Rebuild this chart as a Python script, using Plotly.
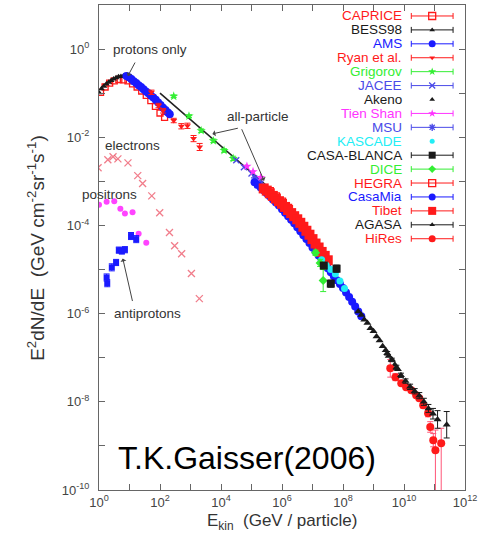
import plotly.graph_objects as go

# ---------------- data (log10 E [GeV], log10 E^2 dN/dE) ----------------
bess_logE = [0.0, 0.08, 0.16, 0.24, 0.32, 0.40, 0.48, 0.56, 0.64, 0.72, 0.80, 0.88, 0.96]
bess_logF = [-0.99, -0.90, -0.84, -0.79, -0.75, -0.71, -0.68, -0.65, -0.63, -0.62, -0.61, -0.62, -0.64]

caprice_logE = [0.05, 0.2, 0.35, 0.5, 0.65, 0.8, 0.95, 1.1, 1.25, 1.4, 1.55, 1.7, 1.85, 2.0, 2.15]
caprice_logF = [-0.98, -0.86, -0.77, -0.72, -0.69, -0.70, -0.72, -0.79, -0.86, -0.95, -1.05, -1.17, -1.30, -1.45, -1.55]

ams_logE = [0.90, 0.98, 1.06, 1.14, 1.22, 1.30, 1.38, 1.46, 1.54, 1.62, 1.70, 1.78, 1.86, 1.94, 2.02, 2.10, 2.18, 2.26, 2.32]
ams_logF = [-0.61, -0.64, -0.68, -0.73, -0.77, -0.82, -0.86, -0.91, -0.96, -1.00, -1.05, -1.10, -1.15, -1.21, -1.27, -1.33, -1.38, -1.44, -1.48]

ryan_logE = [1.72, 1.95, 2.1, 2.45, 2.7, 2.9, 3.1, 3.3]
ryan_logF = [-0.98, -1.28, -1.40, -1.62, -1.75, -1.74, -2.03, -2.22]
ryan_err = [0.05, 0.05, 0.05, 0.05, 0.06, 0.06, 0.07, 0.08]

grigorov_logE = [2.45, 2.95, 3.35, 3.75, 4.1, 4.4]
grigorov_logF = [-1.07, -1.52, -1.85, -2.08, -2.30, -2.48]
grigorov_err = [0.03, 0.03, 0.04, 0.04, 0.04, 0.05]

allpart_logE = [2.0, 3.0, 4.0, 5.0, 5.6, 6.0, 6.4, 6.8, 7.2]
allpart_logF = [-1.0, -1.60, -2.19, -2.79, -3.15, -3.40, -3.68, -4.05, -4.45]

jacee_logE = [4.5, 4.75, 5.0, 5.25]
jacee_logF = [-2.52, -2.68, -2.82, -2.97]
tienshan_logE = [4.85, 5.05, 5.3]
tienshan_logF = [-2.66, -2.78, -2.91]
msu_logE = [5.1, 5.3, 5.5, 5.7]
msu_logF = [-2.92, -3.05, -3.17, -3.30]

tibet_logE = [5.4, 5.5, 5.6, 5.7, 5.8, 5.9, 6.0, 6.1, 6.2, 6.3, 6.4, 6.5, 6.6, 6.7, 6.8, 6.9, 7.0, 7.1, 7.2, 7.3, 7.4, 7.5]
tibet_logF = [-3.16, -3.21, -3.27, -3.33, -3.39, -3.45, -3.51, -3.58, -3.65, -3.72, -3.79, -3.86, -3.94, -4.03, -4.12, -4.21, -4.31, -4.41, -4.50, -4.60, -4.69, -4.79]

hegra_logE = [5.6, 5.8, 6.0, 6.2]
hegra_logF = [-3.22, -3.34, -3.46, -3.60]

casamia_logE = [5.1, 5.2, 5.3, 5.4, 5.5, 5.6, 5.7, 5.8, 5.9, 6.0, 6.1, 6.2, 6.3, 6.4, 6.5, 6.6, 6.7, 6.8, 6.9, 7.0,
                7.1, 7.2, 7.3, 7.4, 7.5, 7.6, 7.7, 7.8, 7.9, 8.0, 8.1, 8.2, 8.3, 8.4, 8.5, 8.6]
casamia_logF = [-3.02, -3.08, -3.14, -3.20, -3.27, -3.34, -3.41, -3.48, -3.55, -3.63, -3.71, -3.79, -3.87, -3.95, -4.04,
                -4.13, -4.22, -4.31, -4.40, -4.50, -4.59, -4.68, -4.78, -4.87, -4.97, -5.06, -5.15, -5.24, -5.33, -5.42,
                -5.52, -5.62, -5.73, -5.84, -5.95, -6.06]

kascade_logE = [7.3, 7.45, 7.6, 7.75, 7.9, 8.05]
kascade_logF = [-4.78, -4.90, -5.00, -5.10, -5.26, -5.43]

casablanca_logE = [7.37, 7.6, 7.79]
casablanca_logF = [-4.91, -5.32, -4.98]
casablanca_err = [0.07, 0.08, 0.08]

dice_logE = [7.1, 7.25, 7.35]
dice_logF = [-4.62, -4.85, -5.25]
dice_err = [0.06, 0.08, 0.25]

akeno_logE = [8.5, 8.6, 8.7, 8.8, 8.9, 9.0, 9.1, 9.2, 9.3, 9.4, 9.5, 9.6, 9.7, 9.8]
akeno_logF = [-5.95, -6.03, -6.14, -6.21, -6.33, -6.40, -6.52, -6.61, -6.74, -6.83, -6.96, -7.04, -7.16, -7.26]

agasa_logE = [9.45, 9.6, 9.75, 9.9, 10.05, 10.2, 10.35, 10.5, 10.65, 10.8, 10.95, 11.1, 11.4]
agasa_logF = [-6.90, -7.05, -7.22, -7.40, -7.53, -7.66, -7.76, -7.86, -8.00, -8.15, -8.27, -8.40, -8.52]
agasa_err = [0.04, 0.04, 0.05, 0.05, 0.05, 0.06, 0.06, 0.07, 0.08, 0.09, 0.12, 0.2, 0.3]

hires_logE = [9.55, 9.72, 9.91, 10.07, 10.24, 10.40, 10.50, 10.63, 10.79, 10.86, 10.96, 11.03, 11.22]
hires_logF = [-7.24, -7.44, -7.58, -7.67, -7.74, -7.85, -7.92, -8.08, -8.26, -8.57, -8.87, -9.10, -8.94]
hires_err_up = [0.2, 0.08, 0.05, 0.04, 0.04, 0.05, 0.05, 0.06, 0.08, 0.12, 0.15, 0.46, 0.34]
hires_err_dn = [0.2, 0.08, 0.05, 0.04, 0.04, 0.05, 0.05, 0.06, 0.08, 0.12, 0.15, 4.0, 4.0]

electron_logE = [-0.03, 0.29, 0.46, 0.62, 0.95, 1.27, 1.43, 1.73, 1.99, 2.31, 2.48, 2.71, 3.03, 3.29]
electron_logF = [-2.69, -2.51, -2.44, -2.49, -2.58, -2.87, -3.05, -3.33, -3.71, -4.16, -4.46, -4.64, -5.09, -5.66]

positron_logE = [0.0, 0.25, 0.5, 0.7, 0.85, 1.1, 1.3, 1.55]
positron_logF = [-3.53, -3.46, -3.45, -3.62, -3.73, -3.70, -4.19, -4.39]

antip_logE = [0.25, 0.27, 0.42, 0.56, 0.65, 0.75, 0.85, 1.05, 1.22]
antip_logF = [-5.18, -5.31, -4.95, -4.84, -4.56, -4.58, -4.55, -4.24, -4.31]
antip_err = [0.08, 0.08, 0.08, 0.07, 0.07, 0.07, 0.07, 0.08, 0.08]

x_tick_exp = list(range(0, 13))
y_tick_exp = list(range(-10, 2))

legend_names = ["CAPRICE", "BESS98", "AMS", "Ryan et al.", "Grigorov", "JACEE", "Akeno", "Tien Shan", "MSU",
                "KASCADE", "CASA-BLANCA", "DICE", "HEGRA", "CasaMia", "Tibet", "AGASA", "HiRes"]

# ---------------- styles ----------------
RED = "#ff1a1a"
BLACK = "#1a1a1a"
BLUE = "#1a1aff"
GREEN = "#33ee33"
MAG = "#ff33ff"
CYAN = "#22eef5"
PURP = "#4a4ae8"
FONT = "Liberation Sans, Arial, Helvetica, sans-serif"

legend_style = {
    "CAPRICE": (RED, "square-open", 7, True),
    "BESS98": (BLACK, "triangle-up", 5, True),
    "AMS": (BLUE, "circle", 7, True),
    "Ryan et al.": (RED, "triangle-down", 5, True),
    "Grigorov": (GREEN, "star", 6, True),
    "JACEE": (PURP, "x-thin-open", 6, True),
    "Akeno": (BLACK, "triangle-up", 5, False),
    "Tien Shan": (MAG, "star", 6, True),
    "MSU": (PURP, "asterisk-open", 6, True),
    "KASCADE": (CYAN, "circle", 5, False),
    "CASA-BLANCA": (BLACK, "square", 7, True),
    "DICE": (GREEN, "diamond", 6, True),
    "HEGRA": (RED, "square-open", 7, True),
    "CasaMia": (BLUE, "circle", 7, True),
    "Tibet": (RED, "square", 8, True),
    "AGASA": (BLACK, "triangle-up", 5, True),
    "HiRes": (RED, "circle", 7, True),
}


def lin(a):
    return [10 ** v for v in a]


def errs(logF, up, dn=None):
    if dn is None:
        dn = up
    F = lin(logF)
    plus = [f * (10 ** u - 1) for f, u in zip(F, up)]
    minus = [f * (1 - 10 ** (-d)) for f, d in zip(F, dn)]
    return plus, minus


fig = go.Figure()


def add(logE, logF, color, symbol, size, err=None, err_dn=None, opacity=1.0, errcolor=None):
    kw = {}
    if err is not None:
        p, m = errs(logF, err, err_dn)
        kw["error_y"] = dict(type="data", array=p, arrayminus=m, symmetric=False,
                             color=errcolor or color, thickness=1, width=3)
    mk = dict(color=color, symbol=symbol, size=size)
    if symbol.endswith("open") or symbol.startswith("x-thin") or symbol.startswith("asterisk"):
        mk["line"] = dict(color=color, width=1.3)
    fig.add_trace(go.Scatter(x=lin(logE), y=lin(logF), mode="markers", marker=mk,
                             opacity=opacity, showlegend=False, hoverinfo="skip", **kw))


# all-particle line
fig.add_trace(go.Scatter(x=lin(allpart_logE), y=lin(allpart_logF), mode="lines",
                         line=dict(color="#222222", width=1.6), showlegend=False, hoverinfo="skip"))

# electrons, positrons, antiprotons
add(electron_logE, electron_logF, "rgba(235,70,90,0.7)", "x-thin-open", 7)
add(positron_logE, positron_logF, "#ff44ff", "circle", 6)
add(antip_logE, antip_logF, BLUE, "square", 6, err=antip_err)

# low energy protons
add(caprice_logE, caprice_logF, RED, "square-open", 6)
add(bess_logE, bess_logF, BLACK, "triangle-up", 6)
add(ams_logE, ams_logF, BLUE, "circle", 8)
add(ryan_logE, ryan_logF, RED, "triangle-down", 6, err=ryan_err)
add(grigorov_logE, grigorov_logF, GREEN, "star", 7, err=grigorov_err)

# all-particle data
add(jacee_logE, jacee_logF, PURP, "x-thin-open", 6)
add(tienshan_logE, tienshan_logF, MAG, "star", 7)
add(msu_logE, msu_logF, PURP, "asterisk-open", 6)
add(casamia_logE, casamia_logF, BLUE, "circle", 8)
add(hegra_logE, hegra_logF, RED, "square-open", 7)
add(tibet_logE, tibet_logF, RED, "square", 10)
add(kascade_logE, kascade_logF, CYAN, "circle", 7)
add(dice_logE, dice_logF, GREEN, "diamond", 7, err=dice_err)
add(casablanca_logE, casablanca_logF, BLACK, "square", 8, err=casablanca_err)
add(akeno_logE, akeno_logF, BLACK, "triangle-up", 7)
add(hires_logE, hires_logF, RED, "circle", 8, err=hires_err_up, err_dn=hires_err_dn, errcolor="#ff5577")
add(agasa_logE, agasa_logF, BLACK, "triangle-up", 7, err=agasa_err)

# ---------------- legend (drawn on a pixel-coordinate overlay axis) ----------------
L_TEXT_X = 406
L_SYM_X = 434
L_ROW0 = 15
L_STEP = 13.95
ann = []
for i, name in enumerate(legend_names):
    color, sym, size, bar = legend_style[name]
    ry = L_ROW0 + i * L_STEP
    mk = dict(color=color, symbol=sym, size=size)
    if sym.endswith("open") or sym.startswith("x-thin") or sym.startswith("asterisk"):
        mk["line"] = dict(color=color, width=1.3)
    kw = {}
    if bar:
        kw["error_x"] = dict(type="constant", value=21, color=color, thickness=1, width=3)
    fig.add_trace(go.Scatter(x=[L_SYM_X], y=[ry], xaxis="x2", yaxis="y2", mode="markers",
                             marker=mk, showlegend=False, hoverinfo="skip", **kw))
    ann.append(dict(x=L_TEXT_X, y=ry, xref="x2", yref="y2", text=name, showarrow=False,
                    xanchor="right", yanchor="middle", font=dict(size=13.5, color=color, family=FONT)))

# ---------------- labels & arrows ----------------
TXT = dict(size=13.5, color="#333333", family=FONT)
for t, lx, ly in [("protons only", 1.66, 0.0), ("electrons", 1.11, -2.19), ("positrons", 0.36, -3.30),
                  ("all-particle", 5.22, -1.52), ("antiprotons", 1.60, -6.0)]:
    ann.append(dict(x=lx, y=ly, xref="x", yref="y", text=t, showarrow=False, font=TXT,
                    xanchor="center", yanchor="middle"))

for tx, ty, axp, ayp in [(0.946, -0.611, 8, -15), (3.717, -1.923, 27, -6),
                         (5.412, -2.986, -23, -53), (0.78, -4.75, 10, 44)]:
    ann.append(dict(x=tx, y=ty, xref="x", yref="y", text="", showarrow=True, ax=axp, ay=ayp,
                    arrowhead=1, arrowsize=1, arrowwidth=1, arrowcolor="#444444", standoff=0))

ann.append(dict(x=0.4035, y=0.066, xref="paper", yref="paper", text="T.K.Gaisser(2006)", showarrow=False,
                font=dict(size=32, color="#000000", family=FONT), xanchor="center", yanchor="middle"))
ann.append(dict(x=-0.174, y=0.5, xref="paper", yref="paper", textangle=-90,
                text="E<sup>2</sup>dN/dE\u00a0\u00a0(GeV cm<sup>-2</sup>sr<sup>-1</sup>s<sup>-1</sup>)",
                showarrow=False, font=dict(size=19, color="#333333", family=FONT),
                xanchor="center", yanchor="middle"))
ann.append(dict(x=0.5, y=-0.066, xref="paper", yref="paper",
                text="E<sub>kin</sub>\u00a0\u00a0(GeV / particle)", showarrow=False,
                font=dict(size=17, color="#333333", family=FONT), xanchor="center", yanchor="middle"))

xt_vals = [10 ** k for k in x_tick_exp]
xt_text = [f"10<sup>{k}</sup>" if k % 2 == 0 else "" for k in x_tick_exp]
yt_vals = [10 ** k for k in y_tick_exp]
yt_text = [f"10<sup>{k}</sup>" if k % 2 == 0 else "" for k in y_tick_exp]

axis_common = dict(showgrid=False, zeroline=False, showline=True, linecolor="#666666", linewidth=1,
                   mirror="allticks", ticks="inside", ticklen=6, tickcolor="#666666",
                   tickfont=dict(size=13, color="#444444", family=FONT))

fig.update_layout(
    width=481, height=536,
    margin=dict(l=99, r=14, t=4, b=46),
    paper_bgcolor="white", plot_bgcolor="white",
    xaxis=dict(type="log", range=[0, 12], tickvals=xt_vals, ticktext=xt_text, **axis_common),
    yaxis=dict(type="log", range=[-10, 1], tickvals=yt_vals, ticktext=yt_text,
               ticklabelstandoff=6, **axis_common),
    xaxis2=dict(range=[99, 467], overlaying="x", visible=False, anchor="y2"),
    yaxis2=dict(range=[490, 4], overlaying="y", visible=False, anchor="x2"),
    annotations=ann,
    showlegend=False,
)

fig.write_html("out.html", config={"displayModeBar": False},
               post_script="document.body.style.margin='0px';")
